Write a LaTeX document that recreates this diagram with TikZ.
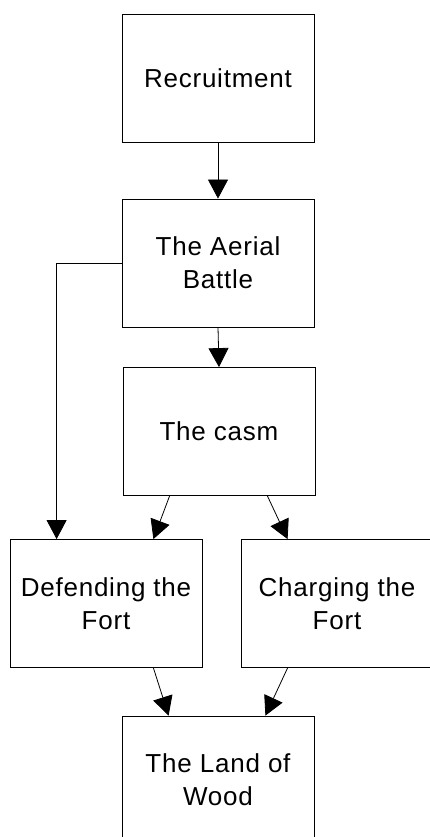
\documentclass[tikz,border=0pt]{standalone}
\usepackage{fontspec}
\setmainfont[LetterSpace=3]{Liberation Sans}
\usetikzlibrary{arrows.meta}
\tikzset{
  box/.style={draw=black, line width=0.8pt, rectangle, minimum width=192pt, minimum height=128pt,
    inner sep=0pt, align=center, font=\fontsize{26}{33}\selectfont},
  conn/.style={draw=black, line width=0.8pt, -{Triangle[length=19pt,width=20pt]}}
}
\begin{document}
\begin{tikzpicture}[x=1pt,y=-1pt]
\useasboundingbox (0,0) rectangle (430,837);
\clip (0,0) rectangle (430,837);
\node[box] (rec)  at (218,78)    {Recruitment};
\node[box] (aer)  at (218,263)   {The Aerial\\Battle};
\node[box] (casm) at (219,431.5) {The casm};
\node[box] (def)  at (106,603.5) {Defending the\\Fort};
\node[box] (chg)  at (337,603.5) {Charging the\\Fort};
\node[box] (land) at (218,780)   {The Land of\\Wood};
\draw[conn] (rec.south) -- (aer.north);
\draw[conn] (aer.south) -- (casm.north);
\draw[conn] (aer.west) -| ([xshift=47pt]def.north west);
\draw[conn] ([xshift=47pt]casm.south west) -- ([xshift=-49pt]def.north east);
\draw[conn] ([xshift=-48pt]casm.south east) -- ([xshift=47pt]chg.north west);
\draw[conn] ([xshift=-49pt]def.south east) -- ([xshift=47pt]land.north west);
\draw[conn] ([xshift=47pt]chg.south west) -- ([xshift=-49pt]land.north east);
\end{tikzpicture}
\end{document}
